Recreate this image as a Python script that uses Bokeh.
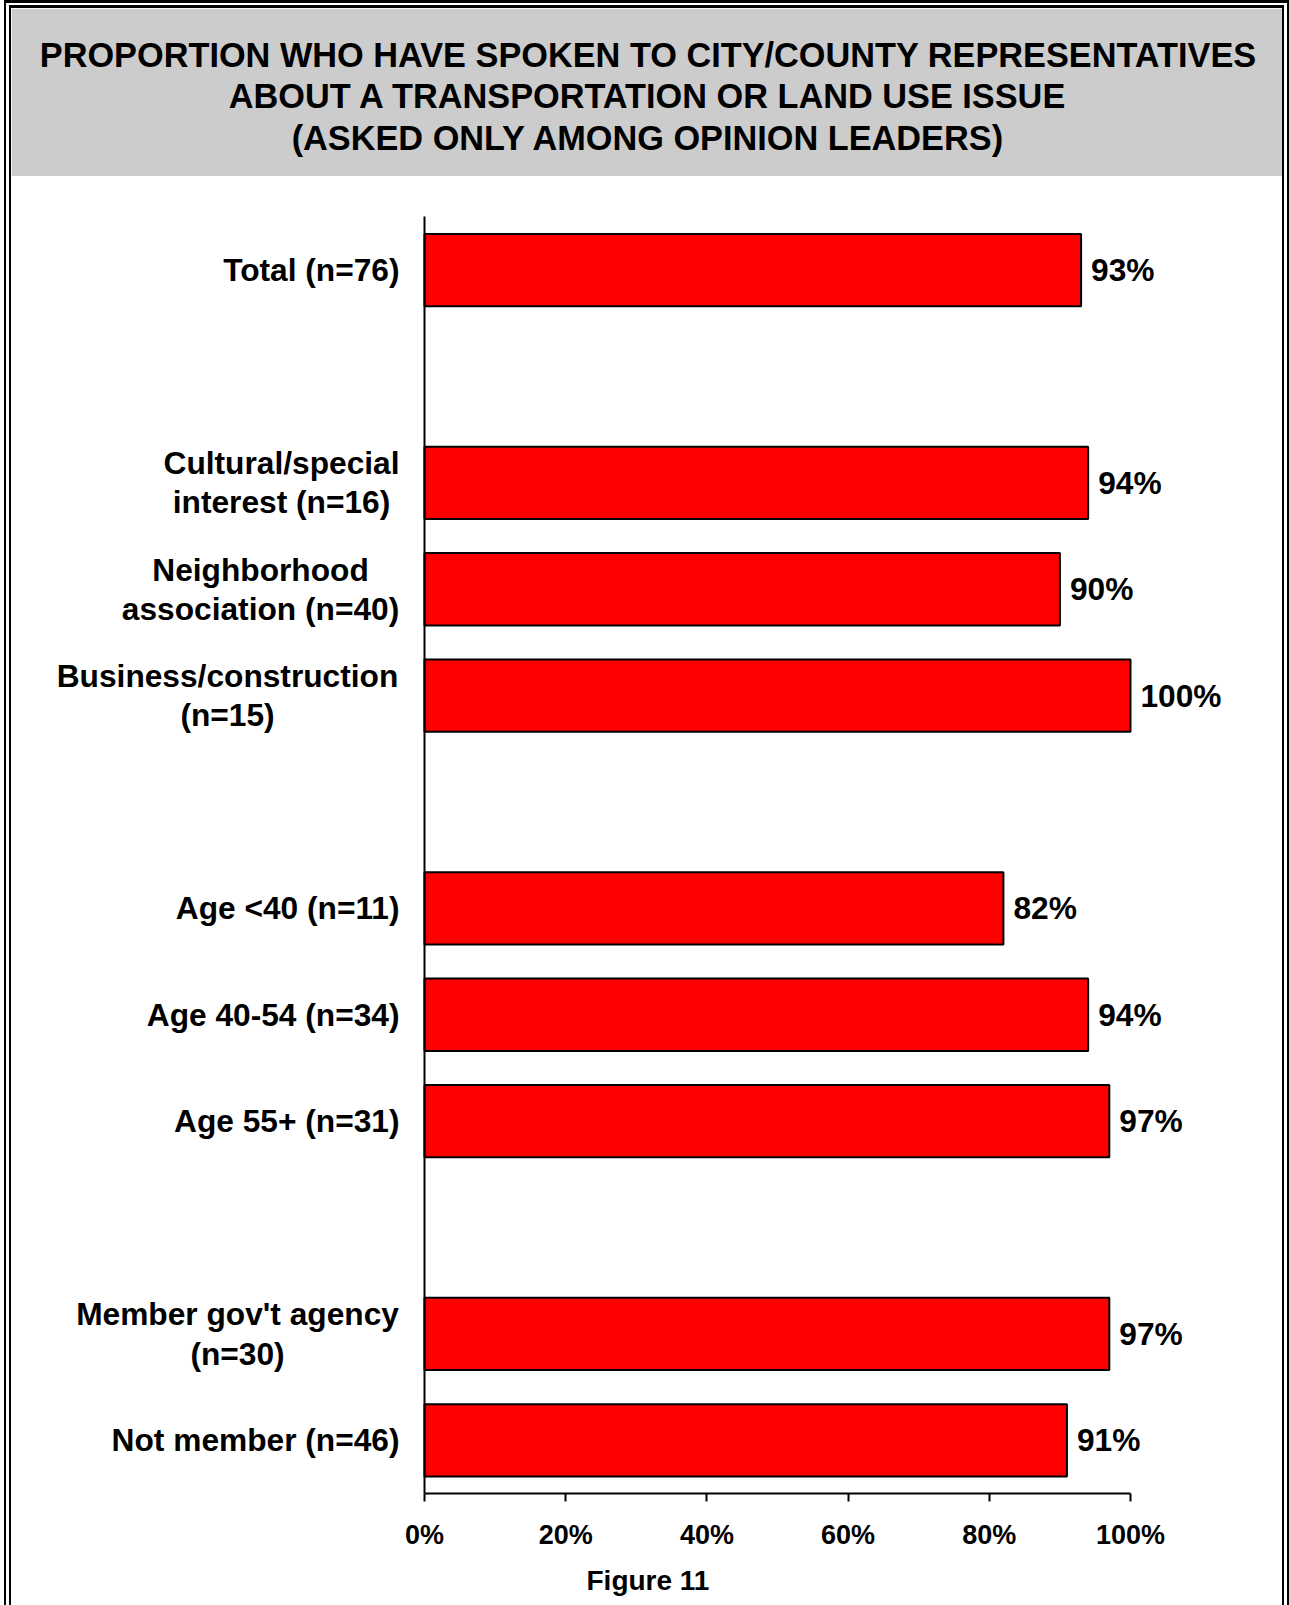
from bokeh.plotting import figure
from bokeh.models import (ColumnDataSource, Range1d, BoxAnnotation, Title, FixedTicker)
from bokeh.core.properties import value
from bokeh.layouts import column
from bokeh.embed import file_html
from bokeh.resources import INLINE

# ---------------- data ----------------
title_lines = ["PROPORTION WHO HAVE SPOKEN TO CITY/COUNTY REPRESENTATIVES",
               "ABOUT A TRANSPORTATION OR LAND USE ISSUE",
               "(ASKED ONLY AMONG OPINION LEADERS)"]
categories = ["Total (n=76)",
              "Cultural/special\ninterest (n=16)",
              "Neighborhood\nassociation (n=40)",
              "Business/construction\n(n=15)",
              "Age <40 (n=11)",
              "Age 40-54 (n=34)",
              "Age 55+ (n=31)",
              "Member gov't agency\n(n=30)",
              "Not member (n=46)"]
values = [93, 94, 90, 100, 82, 94, 97, 97, 91]
group_sizes = [1, 3, 3, 2]
tick_values = [0, 20, 40, 60, 80, 100]
tick_labels = ["0%", "20%", "40%", "60%", "80%", "100%"]
caption = "Figure 11"

# ---------------- layout / style constants ----------------
FONT = "Liberation Sans"
RED = "#FF0000"
GRAY = "#CCCCCC"
W, H = 1271, 1597
# horizontal offset (px) of the centre of each two-line label from the axis
multi_offsets = {
    "Cultural/special\ninterest (n=16)": -143,
    "Neighborhood\nassociation (n=40)": -164,
    "Business/construction\n(n=15)": -197,
    "Member gov't agency\n(n=30)": -187,
}

# slot index of every bar (one empty slot between groups)
slots = []
s = 0
for g, size in enumerate(group_sizes):
    if g > 0:
        s += 1
    for _ in range(size):
        slots.append(s)
        s += 1
n_slots = s

p = figure(width=W, height=H,
           x_range=Range1d(-58.50, 121.53),
           y_range=Range1d(n_slots - 0.5, -2.459),
           toolbar_location=None, output_backend="svg",
           min_border_left=0, min_border_right=0, min_border_top=0,
           min_border_bottom=109,
           outline_line_color=None, background_fill_color="white",
           border_fill_color="white")
p.grid.visible = False

# grey title band
p.add_layout(BoxAnnotation(bottom=-0.885, fill_color=GRAY, fill_alpha=1.0,
                           line_color=None, level="underlay"))
p.text(x=[31.7], y=[-1.633], text=["\n".join(title_lines)],
       text_align="center", text_baseline="middle",
       text_font=value(FONT), text_font_style="bold", text_font_size="34.3px",
       text_color="black", text_line_height=1.085)

src = ColumnDataSource(dict(slot=slots, val=values, cat=categories,
                            vlabel=["%d%%" % v for v in values]))

p.hbar(y="slot", right="val", left=0, height=0.68, source=src,
       fill_color=RED, line_color="black", line_width=2)

# value labels
p.text(x="val", y="slot", text="vlabel", source=src, x_offset=10,
       text_align="left", text_baseline="middle",
       text_font=value(FONT), text_font_style="bold",
       text_font_size="31.7px", text_color="black")

# category labels
for cat, sl in zip(categories, slots):
    if cat in multi_offsets:
        off, align = multi_offsets[cat], "center"
    else:
        off, align = -25, "right"
    p.text(x=[0], y=[sl], text=[cat], x_offset=off,
           text_align=align, text_baseline="middle",
           text_font=value(FONT), text_font_style="bold",
           text_font_size="31.7px", text_color="black",
           text_line_height=1.09)

# x axis
xa = p.xaxis[0]
xa.ticker = FixedTicker(ticks=tick_values)
xa.major_label_overrides = {t: l for t, l in zip(tick_values, tick_labels)}
xa.bounds = (0, 100)
xa.axis_line_color = "black"
xa.axis_line_width = 2
xa.major_tick_line_color = "black"
xa.major_tick_line_width = 2
xa.major_tick_in = 0
xa.major_tick_out = 8
xa.minor_tick_line_color = None
xa.major_label_standoff = 18
xa.major_label_text_font = FONT
xa.major_label_text_font_style = "bold"
xa.major_label_text_font_size = "27px"
xa.major_label_text_color = "black"

# y axis: vertical line at 0 only
ya = p.yaxis[0]
ya.fixed_location = 0
ya.bounds = (-0.5, n_slots - 0.5)
ya.ticker = FixedTicker(ticks=[])
ya.axis_line_color = "black"
ya.axis_line_width = 2
ya.major_tick_in = 0
ya.major_tick_out = 0
ya.major_label_standoff = 0
ya.minor_tick_line_color = None

# caption below the axis
p.add_layout(Title(text=caption, align="left", offset=575, standoff=20,
                   text_font=FONT, text_font_style="bold",
                   text_font_size="28px", text_color="black"), "below")

layout = column(p, spacing=0,
                styles={"margin-left": "4px",
                        "border-left": "7px double black",
                        "border-right": "7px double black",
                        "border-top": "8px double black"})

open("out.html", "w").write(file_html(layout, INLINE))
